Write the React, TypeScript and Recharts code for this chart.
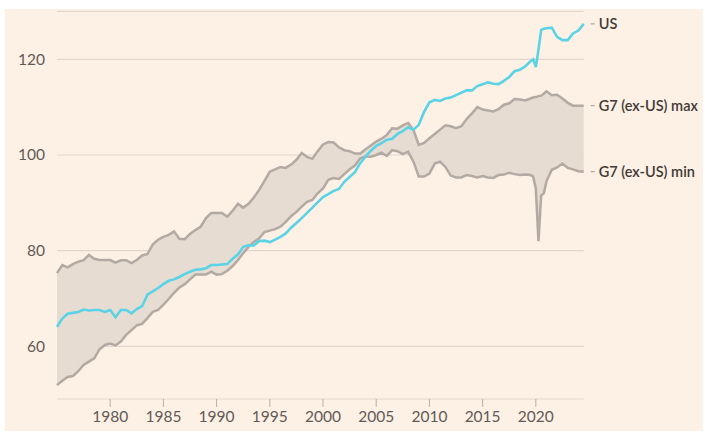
import React from "react";
import { ComposedChart, Area, Line, XAxis, YAxis, CartesianGrid } from "recharts";

const years = [
  1975, 1975.5, 1976, 1976.5, 1977, 1977.5, 1978, 1978.5, 1979, 1979.5,
  1980, 1980.5, 1981, 1981.5, 1982, 1982.5, 1983, 1983.5, 1984, 1984.5,
  1985, 1985.5, 1986, 1986.5, 1987, 1987.5, 1988, 1988.5, 1989, 1989.5,
  1990, 1990.5, 1991, 1991.5, 1992, 1992.5, 1993, 1993.5, 1994, 1994.5,
  1995, 1995.5, 1996, 1996.5, 1997, 1997.5, 1998, 1998.5, 1999, 1999.5,
  2000, 2000.5, 2001, 2001.5, 2002, 2002.5, 2003, 2003.5, 2004, 2004.5,
  2005, 2005.5, 2006, 2006.5, 2007, 2007.5, 2008, 2008.5, 2009, 2009.5,
  2010, 2010.5, 2011, 2011.5, 2012, 2012.5, 2013, 2013.5, 2014, 2014.5,
  2015, 2015.5, 2016, 2016.5, 2017, 2017.5, 2018, 2018.5, 2019, 2019.5,
  2019.75, 2020, 2020.25, 2020.5, 2020.75,
  2021, 2021.5, 2022, 2022.5, 2023, 2023.5, 2024, 2024.5,
];

const usValues = [
  64.1, 65.8, 66.8, 67.0, 67.2, 67.7, 67.5, 67.6, 67.6, 67.2,
  67.6, 66.1, 67.6, 67.6, 66.9, 67.8, 68.4, 70.8, 71.5, 72.2,
  73.0, 73.7, 74.0, 74.5, 75.1, 75.6, 76.0, 76.1, 76.3, 77.0,
  77.0, 77.1, 77.2, 78.3, 79.2, 80.8, 81.1, 81.1, 82.0, 82.1,
  81.8, 82.3, 82.9, 83.6, 84.8, 85.8, 86.8, 87.9, 89.0, 90.1,
  91.2, 91.8, 92.5, 92.9, 94.4, 95.4, 96.4, 98.3, 99.7, 100.9,
  101.9, 102.5, 103.2, 103.4, 104.4, 105.0, 105.8, 105.3, 106.3, 109.0,
  111.0, 111.5, 111.3, 111.8, 112.0, 112.5, 113.0, 113.5, 113.5, 114.4,
  114.8, 115.2, 114.9, 114.8, 115.5, 116.3, 117.5, 117.8, 118.5, 119.6,
  120.0, 118.4, 122.0, 126.1, 126.4,
  126.5, 126.6, 124.7, 124.0, 124.0, 125.4, 126.0, 127.4,
];

const g7MaxValues = [
  75.3, 77.0, 76.5, 77.2, 77.7, 78.0, 79.1, 78.3, 78.05, 78.05,
  78.05, 77.5, 78.0, 78.0, 77.4, 78.05, 79.0, 79.3, 81.3, 82.3,
  82.9, 83.3, 84.0, 82.5, 82.4, 83.5, 84.3, 85.0, 86.8, 87.9,
  87.9, 87.9, 87.1, 88.3, 89.8, 89.0, 89.8, 91.1, 92.7, 94.6,
  96.5, 97.0, 97.5, 97.3, 98.0, 99.0, 100.4, 99.6, 99.2, 100.8,
  102.2, 102.7, 102.6, 101.6, 101.0, 100.8, 100.3, 100.3, 101.2, 102.0,
  102.8, 103.4, 104.2, 105.6, 105.5, 106.2, 106.7, 105.2, 102.1, 102.5,
  103.5, 104.4, 105.3, 106.2, 106.0, 105.6, 106.0, 107.5, 108.7, 110.0,
  109.5, 109.3, 109.1, 109.6, 110.5, 110.8, 111.7, 111.6, 111.4, 111.8,
  112.0, 112.1, 112.3, 112.4, 112.8,
  113.3, 112.5, 112.6, 111.8, 110.9, 110.3, 110.3, 110.3,
];

const g7MinValues = [
  51.9, 52.8, 53.6, 53.8, 54.8, 56.1, 56.8, 57.5, 59.4, 60.3,
  60.6, 60.2, 61.0, 62.4, 63.4, 64.4, 64.7, 65.9, 67.2, 67.6,
  68.7, 69.9, 71.2, 72.3, 73.0, 74.0, 75.0, 75.0, 75.0, 75.6,
  75.0, 75.1, 75.8, 76.8, 78.0, 79.5, 80.8, 81.8, 82.6, 83.9,
  84.2, 84.5, 85.0, 86.0, 87.2, 88.1, 89.2, 90.2, 90.6, 92.0,
  93.0, 94.8, 95.2, 95.0, 96.0, 97.0, 97.8, 99.3, 99.7, 99.65,
  100.0, 100.5, 99.8, 101.0, 100.8, 100.2, 100.7, 98.6, 95.5, 95.5,
  96.1, 98.2, 98.6, 97.5, 95.7, 95.3, 95.3, 95.8, 95.6, 95.3,
  95.6, 95.3, 95.2, 95.8, 95.9, 96.3, 96.0, 95.8, 95.9, 95.8,
  95.5, 93.0, 82.0, 91.5, 92.0,
  94.5, 96.9, 97.4, 98.2, 97.3, 97.0, 96.6, 96.5,
];

const yTicks = [60, 80, 100, 120];
const xTicks = [1980, 1985, 1990, 1995, 2000, 2005, 2010, 2015, 2020];

const data = years.map((year, i) => ({
  year,
  us: usValues[i],
  max: g7MaxValues[i],
  min: g7MinValues[i],
  band: [g7MinValues[i], g7MaxValues[i]],
}));

const lastIndex = data.length - 1;
const font = "Lato, 'Open Sans', sans-serif";

// label at the end of each line, FT style "- name"
const endLabel = (name: string) => (props: any) => {
  const { x, y, index } = props;
  if (index !== lastIndex) return <g />;
  return (
    <g>
      <line x1={x + 7} x2={x + 11} y1={y} y2={y} stroke="#a39a94" strokeWidth={1} />
      <text
        x={x + 15}
        y={y}
        dy="0.35em"
        fontFamily={font}
        fontSize={14.5}
        fontWeight={600}
        fill="#3f3a36"
      >
        {name}
      </text>
    </g>
  );
};

const App = () => {
  return (
    <div style={{ position: "absolute", left: 5, top: 9, width: 698, height: 422, background: "#fdf0e4" }}>
      <ComposedChart
        width={698}
        height={422}
        data={data}
        margin={{ top: 2.45, right: 119.3, left: 0, bottom: 0 }}
      >
        <CartesianGrid vertical={false} stroke="#e2d7cd" strokeWidth={1.2} />
        <XAxis
          dataKey="year"
          type="number"
          domain={[1975, 2024.5]}
          ticks={xTicks}
          axisLine={false}
          tickSize={8}
          tickLine={{ stroke: "#b8afa8" }}
          tickMargin={4}
          height={32}
          tick={{ fontSize: 15.5, fill: "#615b57", fontFamily: font }}
        />
        <YAxis
          domain={[49, 130]}
          ticks={yTicks}
          axisLine={false}
          tickLine={false}
          tickSize={0}
          tickMargin={12}
          width={52}
          tick={{ fontSize: 15.5, fill: "#615b57", fontFamily: font }}
        />
        <Area
          dataKey="band"
          type="linear"
          stroke="none"
          fill="#e6dcd2"
          fillOpacity={1}
          isAnimationActive={false}
        />
        <Line
          dataKey="max"
          type="linear"
          stroke="#b3aaa3"
          strokeWidth={2.5}
          dot={false}
          isAnimationActive={false}
          label={endLabel("G7 (ex-US) max")}
        />
        <Line
          dataKey="min"
          type="linear"
          stroke="#b3aaa3"
          strokeWidth={2.5}
          dot={false}
          isAnimationActive={false}
          label={endLabel("G7 (ex-US) min")}
        />
        <Line
          dataKey="us"
          type="linear"
          stroke="#5bd3e6"
          strokeWidth={2.6}
          dot={false}
          isAnimationActive={false}
          label={endLabel("US")}
        />
      </ComposedChart>
    </div>
  );
};

export default App;
